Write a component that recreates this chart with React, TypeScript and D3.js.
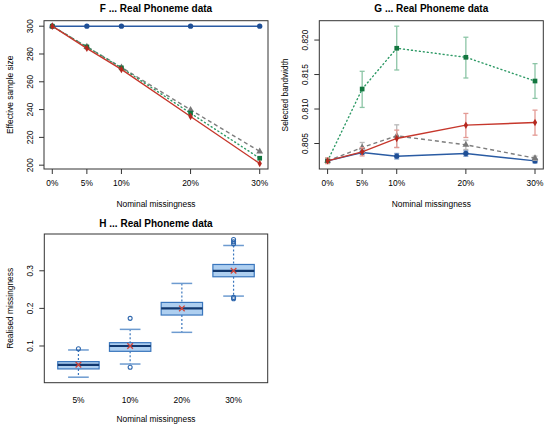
import React from 'react';
import * as d3 from 'd3';

// ---- data ----
const pctLabels = ['0%', '5%', '10%', '20%', '30%'];
const pctValues = [0, 5, 10, 20, 30];

// F: effective sample size
const blueF = [300, 300, 300, 300, 300];
const grayF = [300, 285.2, 270.4, 239.8, 209.9];
const greenF = [300, 285.1, 270.0, 237.4, 205.0];
const redF = [300, 284.1, 268.9, 235.0, 201.2];
const ticksF = [200, 220, 240, 260, 280, 300];

// G: selected bandwidth (mean, lower, upper)
const blueG = [0.80248, 0.80369, 0.80316, 0.80355, 0.80248];
const blueGLo = [0.80225, 0.80349, 0.80276, 0.80315, 0.80218];
const blueGHi = [0.80271, 0.80389, 0.80356, 0.80395, 0.80278];
const grayG = [0.80248, 0.80442, 0.80611, 0.80481, 0.80287];
const grayGLo = [0.8022, 0.80369, 0.80442, 0.80413, 0.80257];
const grayGHi = [0.8028, 0.80515, 0.80771, 0.80548, 0.80317];
const greenG = [0.80248, 0.8129, 0.81881, 0.8175, 0.81406];
const greenGLo = [0.8021, 0.81023, 0.81566, 0.8145, 0.81154];
const greenGHi = [0.8029, 0.81547, 0.82201, 0.82041, 0.81658];
const redG = [0.80248, 0.80379, 0.80573, 0.80766, 0.80805];
const redGLo = [0.8021, 0.8032, 0.80442, 0.80587, 0.80621];
const redGHi = [0.8029, 0.8044, 0.80694, 0.80936, 0.80984];
const ticksG = [0.805, 0.81, 0.815, 0.82];

// H: realised missingness boxplots
const boxLabels = ['5%', '10%', '20%', '30%'];
const boxLow = [0.017, 0.052, 0.1363, 0.2327];
const boxQ1 = [0.039, 0.0858, 0.1823, 0.2841];
const boxMed = [0.0496, 0.1, 0.2, 0.3];
const boxQ3 = [0.0584, 0.1088, 0.2159, 0.3168];
const boxHigh = [0.0894, 0.1442, 0.2664, 0.3673];
const boxMean = [0.05, 0.1, 0.2, 0.3];
const boxOutliers = [[0.0928], [0.1735, 0.0434], [], [0.3832, 0.377, 0.3717, 0.2292, 0.2257]];
const ticksH = [0.1, 0.2, 0.3];

const FONT = '"Liberation Sans", Arial, Helvetica, sans-serif';
const AX = '#333';

// R-style 4% axis extension
function rExt(vals: number[]): [number, number] {
  const lo = d3.min(vals)!;
  const hi = d3.max(vals)!;
  const e = (hi - lo) * 0.04;
  return [lo - e, hi + e];
}

interface Series {
  values: number[];
  lo?: number[];
  hi?: number[];
  color: string;
  marker: string;
  light: string;
  dash?: string;
  symbol: d3.SymbolType;
  size: number;
}

const seriesF: Series[] = [
  { values: blueF, color: '#2a5ba3', marker: '#1f4f96', light: '#2a5ba3', symbol: d3.symbolCircle, size: 22 },
  { values: grayF, color: '#7d7d7d', marker: '#777', light: '#aaa', dash: '4,3', symbol: d3.symbolTriangle, size: 20 },
  { values: greenF, color: '#2e9a66', marker: '#13763f', light: '#8cc5a6', dash: '1,3', symbol: d3.symbolSquare, size: 22 },
  { values: redF, color: '#c6372c', marker: '#b5281f', light: '#e39a94', symbol: d3.symbolDiamond, size: 16 },
];

const seriesG: Series[] = [
  { values: blueG, lo: blueGLo, hi: blueGHi, color: '#2a5ba3', marker: '#1f4f96', light: '#7f9fcc', symbol: d3.symbolCircle, size: 22 },
  { values: grayG, lo: grayGLo, hi: grayGHi, color: '#7d7d7d', marker: '#777', light: '#b9b9b9', dash: '4,3', symbol: d3.symbolTriangle, size: 20 },
  { values: greenG, lo: greenGLo, hi: greenGHi, color: '#2e9a66', marker: '#13763f', light: '#8cc5a6', dash: '1,3', symbol: d3.symbolSquare, size: 22 },
  { values: redG, lo: redGLo, hi: redGHi, color: '#c6372c', marker: '#b5281f', light: '#e39a94', symbol: d3.symbolDiamond, size: 16 },
];

interface LineProps {
  left: number; right: number; top: number; bottom: number;
  title: string; yLabel: string; ticks: number[]; fmt: (v: number) => string;
  series: Series[];
}

const LinePanel: React.FC<LineProps> = ({ left, right, top, bottom, title, yLabel, ticks, fmt, series }) => {
  const x = d3.scaleLinear().domain(rExt(pctValues)).range([left, right]);
  const all = series.flatMap((s) => [...s.values, ...(s.lo || []), ...(s.hi || [])]);
  const y = d3.scaleLinear().domain(rExt(all)).range([bottom, top]);
  const line = d3.line<number>().x((_, i) => x(pctValues[i])).y((d) => y(d));
  const cx = (left + right) / 2;
  return (
    <g fontFamily={FONT}>
      <text x={cx} y={top - 8.5} textAnchor="middle" fontSize={10} fontWeight="bold">{title}</text>
      {series.map((s, k) => (
        <g key={k}>
          {s.lo && s.hi && s.values.map((_, i) => (
            <g key={i} stroke={s.light} strokeWidth={1.3}>
              <line x1={x(pctValues[i])} x2={x(pctValues[i])} y1={y(s.lo![i])} y2={y(s.hi![i])} />
              <line x1={x(pctValues[i]) - 2.5} x2={x(pctValues[i]) + 2.5} y1={y(s.lo![i])} y2={y(s.lo![i])} />
              <line x1={x(pctValues[i]) - 2.5} x2={x(pctValues[i]) + 2.5} y1={y(s.hi![i])} y2={y(s.hi![i])} />
            </g>
          ))}
          <path d={line(s.values) || ''} fill="none" stroke={s.color} strokeWidth={1.4}
            strokeDasharray={s.dash} strokeLinecap={s.dash === '1,3' ? 'round' : 'butt'} />
          {s.values.map((v, i) => (
            <path key={i} d={d3.symbol(s.symbol, s.size)() || ''} fill={s.marker}
              transform={`translate(${x(pctValues[i])},${y(v)})`} />
          ))}
        </g>
      ))}
      <rect x={left} y={top} width={right - left} height={bottom - top} fill="none" stroke={AX} strokeWidth={1} />
      {pctValues.map((p, i) => (
        <g key={i}>
          <line x1={x(p)} x2={x(p)} y1={bottom} y2={bottom + 5} stroke={AX} />
          <text x={x(p)} y={bottom + 17} textAnchor="middle" fontSize={8.4}>{pctLabels[i]}</text>
        </g>
      ))}
      {ticks.map((t, i) => (
        <g key={i}>
          <line x1={left - 5} x2={left} y1={y(t)} y2={y(t)} stroke={AX} />
          <text transform={`translate(${left - 11.5},${y(t)}) rotate(-90)`} textAnchor="middle" fontSize={8.4}>{fmt(t)}</text>
        </g>
      ))}
      <text x={cx} y={bottom + 38} textAnchor="middle" fontSize={8.4}>Nominal missingness</text>
      <text transform={`translate(${left - 31.5},${(top + bottom) / 2}) rotate(-90)`} textAnchor="middle" fontSize={8.4}>{yLabel}</text>
    </g>
  );
};

const BoxPanel: React.FC<{ left: number; right: number; top: number; bottom: number }> = ({ left, right, top, bottom }) => {
  const x = d3.scaleLinear().domain(rExt([0.5, boxLabels.length + 0.5])).range([left, right]);
  const all = [...boxLow, ...boxHigh, ...boxOutliers.flat()];
  const y = d3.scaleLinear().domain(rExt(all)).range([bottom, top]);
  const hw = (x(1.4) - x(1)) ;
  const cw = (x(1.2) - x(1));
  const cx = (left + right) / 2;
  return (
    <g fontFamily={FONT}>
      <text x={cx} y={top - 7} textAnchor="middle" fontSize={10} fontWeight="bold">H ... Real Phoneme data</text>
      {boxLabels.map((lab, i) => {
        const c = x(i + 1);
        return (
          <g key={lab}>
            <line x1={c} x2={c} y1={y(boxHigh[i])} y2={y(boxQ3[i])} stroke="#3a76bd" strokeWidth={1.2} strokeDasharray="2,2" />
            <line x1={c} x2={c} y1={y(boxQ1[i])} y2={y(boxLow[i])} stroke="#3a76bd" strokeWidth={1.2} strokeDasharray="2,2" />
            <line x1={c - cw} x2={c + cw} y1={y(boxHigh[i])} y2={y(boxHigh[i])} stroke="#6d9bd0" strokeWidth={1.5} />
            <line x1={c - cw} x2={c + cw} y1={y(boxLow[i])} y2={y(boxLow[i])} stroke="#6d9bd0" strokeWidth={1.5} />
            <rect x={c - hw} y={y(boxQ3[i])} width={2 * hw} height={y(boxQ1[i]) - y(boxQ3[i])}
              fill="#aecff0" stroke="#3a76bd" strokeWidth={1.2} />
            <line x1={c - hw} x2={c + hw} y1={y(boxMed[i])} y2={y(boxMed[i])} stroke="#11386f" strokeWidth={2.2} />
            {boxOutliers[i].map((o, j) => (
              <circle key={j} cx={c} cy={y(o)} r={2} fill="none" stroke="#2f67ad" strokeWidth={1.1} />
            ))}
            <path d={d3.symbol(d3.symbolX, 22)() || ''} transform={`translate(${c},${y(boxMean[i])})`}
              stroke="#d2463a" strokeWidth={1.3} fill="none" />
            <text x={c} y={bottom + 20.5} textAnchor="middle" fontSize={8.4}>{lab}</text>
          </g>
        );
      })}
      <rect x={left} y={top} width={right - left} height={bottom - top} fill="none" stroke={AX} strokeWidth={1} />
      {ticksH.map((t, i) => (
        <g key={i}>
          <line x1={left - 5} x2={left} y1={y(t)} y2={y(t)} stroke={AX} />
          <text transform={`translate(${left - 11.5},${y(t)}) rotate(-90)`} textAnchor="middle" fontSize={8.4}>{t.toFixed(1)}</text>
        </g>
      ))}
      <text x={cx} y={bottom + 39.5} textAnchor="middle" fontSize={8.4}>Nominal missingness</text>
      <text transform={`translate(${left - 31.5},${(top + bottom) / 2}) rotate(-90)`} textAnchor="middle" fontSize={8.4}>Realised missingness</text>
    </g>
  );
};

export default function App() {
  return (
    <svg width={550} height={426} style={{ position: 'absolute', left: 0, top: 0, background: '#fff' }}>
      <LinePanel left={44} right={268} top={20.7} bottom={169} title="F ... Real Phoneme data"
        yLabel="Effective sample size" ticks={ticksF} fmt={(v) => String(v)} series={seriesF} />
      <LinePanel left={319.3} right={543.3} top={20.7} bottom={169} title="G ... Real Phoneme data"
        yLabel="Selected bandwidth" ticks={ticksG} fmt={(v) => v.toFixed(3)} series={seriesG} />
      <BoxPanel left={44.3} right={267.7} top={234} bottom={382.7} />
    </svg>
  );
}
